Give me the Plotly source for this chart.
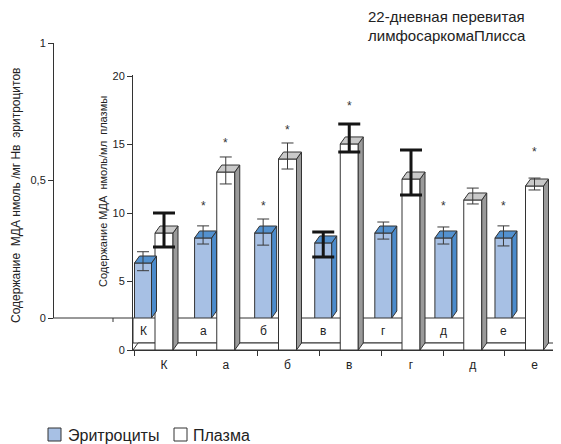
import plotly.graph_objects as go

# ---------------- data ----------------
categories = ["К", "а", "б", "в", "г", "д", "е"]

eryth = [0.200, 0.291, 0.309, 0.273, 0.309, 0.291, 0.291]
eryth_err_plus = [0.041, 0.044, 0.051, 0.040, 0.040, 0.040, 0.044]
eryth_err_minus = [0.028, 0.022, 0.044, 0.051, 0.022, 0.022, 0.029]
eryth_star = [None, 0.42, 0.42, None, None, 0.42, 0.42]

plasma = [8.54, 12.99, 13.94, 15.04, 12.48, 10.95, 11.97]
plasma_err_plus = [1.46, 1.10, 1.17, 1.46, 2.12, 0.87, 0.58]
plasma_err_minus = [1.02, 0.87, 0.73, 0.59, 1.17, 0.29, 0.29]
plasma_star = [None, 15.3, 16.3, 18.0, None, None, 14.7]

eryth_ticks = [0, 0.5, 1]
eryth_tick_text = ["0", "0,5", "1"]
plasma_ticks = [0, 5, 10, 15, 20]

title_lines = ["22-дневная перевитая", "лимфосаркомаПлисса"]
eryth_title = "Содержание\u00a0 МДА нмоль /мг Нв\u00a0 эритроцитов"
plasma_title = "Содержание МДА\u00a0 нмоль/мл\u00a0 плазмы"
series_names = ["Эритроциты", "Плазма"]

# ---------------- styles / geometry ----------------
FONT = "Liberation Sans, Arial, Helvetica, sans-serif"
OFF = 8                                 # page offset of the figure (body margin)
W, H = 561 - OFF, 444 - OFF
L, T = 53 - OFF, 40 - OFF
PW, PH = 507, 310                       # plot area
R, B = W - L - PW, H - T - PH
EDGE = "#333333"
BLUE_FRONT, BLUE_SIDE, BLUE_TOP = "#a7c0e4", "#4b8bcb", "#5391cf"
WHITE_FRONT, WHITE_SIDE, WHITE_TOP = "#ffffff", "#9a9a9a", "#c9c9c9"
THICK_ERYTH = {3}
THICK_PLASMA = {0, 3, 4}


def PX(px):
    """page pixel x -> paper fraction"""
    return (px - OFF - L) / PW


def PY(py):
    """page pixel y -> paper fraction"""
    return (T + PH - (py - OFF)) / PH


# axis scales (page pixels)
WX0, WSTEP = 164.0, 61.75      # white bars (x axis)
BX0, BSTEP = 143.0, 60.08      # blue bars (x2 axis)
PLOT_X0, PLOT_X1 = 133, 560
PL_ZERO, PL_PPU = 350, 13.7    # plasma axis
ER_ZERO, ER_PPU = 318, 275.0   # erythrocyte axis
DEPTH_X, DEPTH_Y = 5, 7        # 3D depth in px

n = len(categories)
idx = list(range(n))

fig = go.Figure()


def box_faces(values, width, dx, dy, xaxis, yaxis, side_col, top_col):
    sx, sy, tx, ty = [], [], [], []
    for i, v in zip(idx, values):
        xl, xr = i - width / 2, i + width / 2
        sx += [xr, xr + dx, xr + dx, xr, xr, None]
        sy += [0, dy, v + dy, v, 0, None]
        tx += [xl, xr, xr + dx, xl + dx, xl, None]
        ty += [v, v, v + dy, v + dy, v, None]
    for xs, ys, col in ((sx, sy, side_col), (tx, ty, top_col)):
        fig.add_trace(go.Scatter(
            x=xs, y=ys, mode="lines", fill="toself", fillcolor=col,
            line=dict(color=EDGE, width=1), xaxis=xaxis, yaxis=yaxis,
            hoverinfo="skip", showlegend=False))


def err_traces(values, ep, em, thick_set, xaxis, yaxis):
    for thick in (False, True):
        sel = [i for i in idx if (i in thick_set) == thick]
        if not sel:
            continue
        fig.add_trace(go.Scatter(
            x=sel, y=[values[i] for i in sel], mode="markers",
            marker=dict(size=1, color="rgba(0,0,0,0)"),
            error_y=dict(type="data", symmetric=False,
                         array=[ep[i] for i in sel],
                         arrayminus=[em[i] for i in sel],
                         color="#151515" if thick else "#3a3a3a",
                         thickness=3 if thick else 1,
                         width=11 if thick else 6),
            xaxis=xaxis, yaxis=yaxis, hoverinfo="skip", showlegend=False))


# ---- white (plasma) bars, front row, subplot x/y ----
w_width = 18 / WSTEP
fig.add_trace(go.Bar(
    x=idx, y=plasma, width=w_width, name=series_names[1],
    marker=dict(color=WHITE_FRONT, line=dict(color=EDGE, width=1)),
    xaxis="x", yaxis="y", showlegend=False))
box_faces(plasma, w_width, DEPTH_X / WSTEP, DEPTH_Y / PL_PPU, "x", "y",
          WHITE_SIDE, WHITE_TOP)
err_traces(plasma, plasma_err_plus, plasma_err_minus, THICK_PLASMA, "x", "y")

# ---- blue (erythrocyte) bars, back row, subplot x2/y2 ----
b_width = 17 / BSTEP
fig.add_trace(go.Bar(
    x=idx, y=eryth, width=b_width, name=series_names[0],
    marker=dict(color=BLUE_FRONT, line=dict(color=EDGE, width=1)),
    xaxis="x2", yaxis="y2", showlegend=False))
box_faces(eryth, b_width, DEPTH_X / BSTEP, DEPTH_Y / ER_PPU, "x2", "y2",
          BLUE_SIDE, BLUE_TOP)
err_traces(eryth, eryth_err_plus, eryth_err_minus, THICK_ERYTH, "x2", "y2")

# ---------------- annotations ----------------
ann = []
C = dict(xanchor="center", yanchor="middle", showarrow=False)
for i, s in enumerate(eryth_star):
    if s is not None:
        ann.append(dict(x=i, y=s, xref="x2", yref="y2", text="*",
                        font=dict(size=12, color="#333"), yshift=-3, **C))
for i, s in enumerate(plasma_star):
    if s is not None:
        ann.append(dict(x=i, y=s, xref="x", yref="y", text="*",
                        font=dict(size=12, color="#333"), yshift=-3, **C))
# category labels inside the floor strip
for i, c in enumerate(categories):
    ann.append(dict(x=i, y=PY(331), xref="x2", yref="paper", text=c,
                    font=dict(size=12, color="#222"), **C))
# axis titles
ann.append(dict(x=PX(16), y=PY(196), xref="paper", yref="paper", text=eryth_title,
                textangle=-90, font=dict(size=12, color="#222"), **C))
ann.append(dict(x=PX(103), y=PY(192), xref="paper", yref="paper", text=plasma_title,
                textangle=-90, font=dict(size=11, color="#222"), **C))
# chart title (two lines)
for line, yc in zip(title_lines, (17, 36)):
    ann.append(dict(x=PX(366), y=PY(yc), xref="paper", yref="paper", text=line,
                    xanchor="left", yanchor="middle", showarrow=False,
                    font=dict(size=15, color="#222")))
# legend text
ann.append(dict(x=PX(66), y=PY(435), xref="paper", yref="paper", text=series_names[0],
                xanchor="left", yanchor="middle", showarrow=False,
                font=dict(size=16, color="#222")))
ann.append(dict(x=PX(191), y=PY(435), xref="paper", yref="paper", text=series_names[1],
                xanchor="left", yanchor="middle", showarrow=False,
                font=dict(size=16, color="#222")))

# ---------------- floor shapes (below traces) ----------------
shapes = []
shapes.append(dict(type="rect", xref="paper", yref="paper", layer="below",
                   x0=PX(133), x1=PX(530), y0=PY(343), y1=PY(318),
                   fillcolor="white", line=dict(color=EDGE, width=1)))
shapes.append(dict(type="path", xref="paper", yref="paper", layer="below",
                   path=f"M{PX(133)},{PY(350)} L{PX(560)},{PY(350)} L{PX(565)},{PY(343)} "
                        f"L{PX(138)},{PY(343)} Z",
                   fillcolor="white", line=dict(color=EDGE, width=1)))
shapes.append(dict(type="line", xref="paper", yref="paper", layer="below",
                   x0=PX(53), x1=PX(133), y0=PY(318), y1=PY(318),
                   line=dict(color=EDGE, width=1)))
shapes.append(dict(type="line", xref="paper", yref="paper", layer="below",
                   x0=PX(113), x1=PX(113), y0=PY(318), y1=PY(322),
                   line=dict(color=EDGE, width=1)))
# legend swatches
shapes.append(dict(type="rect", xref="paper", yref="paper",
                   x0=PX(48), x1=PX(61), y0=PY(441), y1=PY(428),
                   fillcolor=BLUE_FRONT, line=dict(color=EDGE, width=1)))
shapes.append(dict(type="rect", xref="paper", yref="paper",
                   x0=PX(174), x1=PX(187), y0=PY(441), y1=PY(428),
                   fillcolor="white", line=dict(color=EDGE, width=1)))

axis_common = dict(showgrid=False, zeroline=False, showline=True, linecolor=EDGE,
                   linewidth=1, tickcolor=EDGE, tickfont=dict(size=11, color="#222"))

fig.update_layout(
    width=W, height=H, margin=dict(l=L, r=R, t=T, b=B, pad=0),
    paper_bgcolor="white", plot_bgcolor="rgba(0,0,0,0)",
    font=dict(family=FONT, color="#222"), showlegend=False,
    annotations=ann, shapes=shapes, hovermode=False,
    xaxis=dict(domain=[PX(PLOT_X0), 1],
               range=[(PLOT_X0 - WX0) / WSTEP, (PLOT_X1 - WX0) / WSTEP],
               tickvals=idx, ticktext=categories, ticks="", ticklabelstandoff=4,
               minor=dict(tickvals=[i - 0.48 for i in idx], ticks="outside",
                          ticklen=5, tickcolor=EDGE),
               anchor="y", **{**axis_common, "tickfont": dict(size=12, color="#222")}),
    yaxis=dict(domain=[0, PY(75)], range=[0, (PL_ZERO - 75) / PL_PPU],
               tickvals=plasma_ticks, ticks="outside", ticklen=5, anchor="x",
               **axis_common),
    xaxis2=dict(domain=[PX(PLOT_X0), 1],
                range=[(PLOT_X0 - BX0) / BSTEP, (PLOT_X1 - BX0) / BSTEP],
                anchor="y2", visible=False),
    yaxis2=dict(domain=[PY(ER_ZERO), PY(43)], range=[0, 1], anchor="free",
                position=0, side="left", tickvals=eryth_ticks,
                ticktext=eryth_tick_text, ticks="outside", ticklen=5,
                **axis_common),
)

fig.write_html("out.html")
